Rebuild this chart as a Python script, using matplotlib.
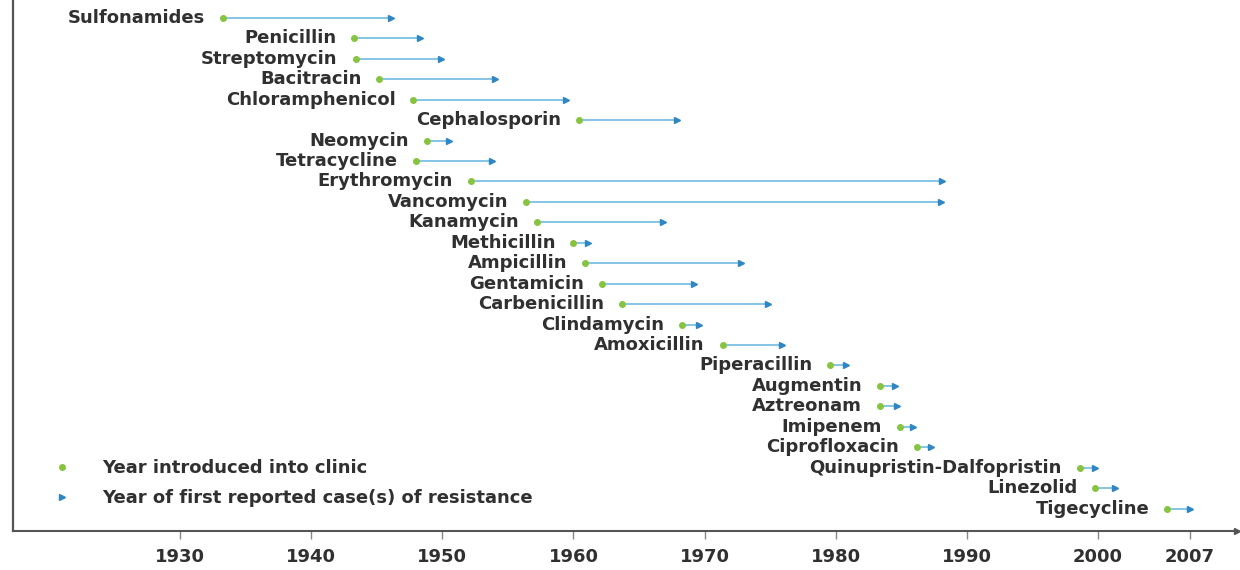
import matplotlib
matplotlib.use("Agg")
import matplotlib.pyplot as plt
from matplotlib.lines import Line2D

drugs = ["Sulfonamides", "Penicillin", "Streptomycin", "Bacitracin", "Chloramphenicol",
         "Cephalosporin", "Neomycin", "Tetracycline", "Erythromycin", "Vancomycin",
         "Kanamycin", "Methicillin", "Ampicillin", "Gentamicin", "Carbenicillin",
         "Clindamycin", "Amoxicillin", "Piperacillin", "Augmentin", "Aztreonam",
         "Imipenem", "Ciprofloxacin", "Quinupristin-Dalfopristin", "Linezolid", "Tigecycline"]
introduced = [1933.3, 1943.3, 1943.4, 1945.2, 1947.8,
              1960.4, 1948.8, 1948.0, 1952.2, 1956.4,
              1957.2, 1960.0, 1960.9, 1962.2, 1963.7,
              1968.3, 1971.4, 1979.6, 1983.4, 1983.4,
              1984.9, 1986.2, 1998.6, 1999.8, 2005.3]
resistance = [1946.1, 1948.3, 1949.9, 1954.0, 1959.4,
              1967.9, 1950.5, 1953.8, 1988.1, 1988.0,
              1966.8, 1961.1, 1972.8, 1969.2, 1974.8,
              1969.6, 1975.9, 1980.8, 1984.5, 1984.7,
              1985.9, 1987.3, 1999.8, 2001.3, 2007.0]
tick_years = [1930, 1940, 1950, 1960, 1970, 1980, 1990, 2000, 2007]
legend_labels = ["Year introduced into clinic", "Year of first reported case(s) of resistance"]

GREEN = "#86c440"
BLUE_LINE = "#7cc0e6"
BLUE_HEAD = "#2f86c4"
TEXT = "#303030"
FONT = "DejaVu Sans"
FS = 13

fig = plt.figure(figsize=(12.4, 5.7), dpi=100)
ax = fig.add_axes([13 / 1240, 1 - 531 / 570, (1237 - 13) / 1240, 531 / 570])

rows = list(range(len(drugs)))
ax.hlines(rows, introduced, resistance, color=BLUE_LINE, lw=1.3, zorder=2)
ax.plot(resistance, rows, ls="", marker=">", ms=5, color=BLUE_HEAD, zorder=3)
ax.plot(introduced, rows, ls="", marker="o", ms=4, color=GREEN, zorder=4)

for name, x0, r in zip(drugs, introduced, rows):
    ax.annotate(name, (x0, r), xytext=(-13, 0), textcoords="offset points",
                ha="right", va="center", fontsize=FS, fontfamily=FONT,
                fontweight="bold", color=TEXT)

ax.set_xlim(1917.26, 2010.6)
ax.set_ylim(25.1, -0.88)
ax.set_yticks([])
ax.set_xticks(tick_years)
ax.set_xticklabels([str(y) for y in tick_years], fontsize=FS, fontfamily=FONT,
                   fontweight="bold", color=TEXT)
ax.tick_params(axis="x", direction="out", length=6, width=1, color="#888888", pad=6)

for s in ["top", "right"]:
    ax.spines[s].set_visible(False)
ax.spines["left"].set_color("#555555")
ax.spines["bottom"].set_color("#555555")
ax.spines["left"].set_linewidth(1.6)
ax.spines["bottom"].set_linewidth(1.5)
ax.plot([1], [0], transform=ax.transAxes, marker=">", ms=5, color="#555555", clip_on=False)

handles = [Line2D([], [], ls="", marker="o", ms=4, color=GREEN),
           Line2D([], [], ls="", marker=">", ms=5, color=BLUE_HEAD)]
leg = ax.legend(handles, legend_labels, loc="lower left", bbox_to_anchor=(0.033, 0.045),
                frameon=False, handlelength=1.0, handletextpad=1.7, labelspacing=0.65,
                borderpad=0, borderaxespad=0,
                prop={"family": FONT, "size": FS, "weight": "bold"})
for t in leg.get_texts():
    t.set_color(TEXT)

fig.savefig("out.png", dpi=100, facecolor="white")
